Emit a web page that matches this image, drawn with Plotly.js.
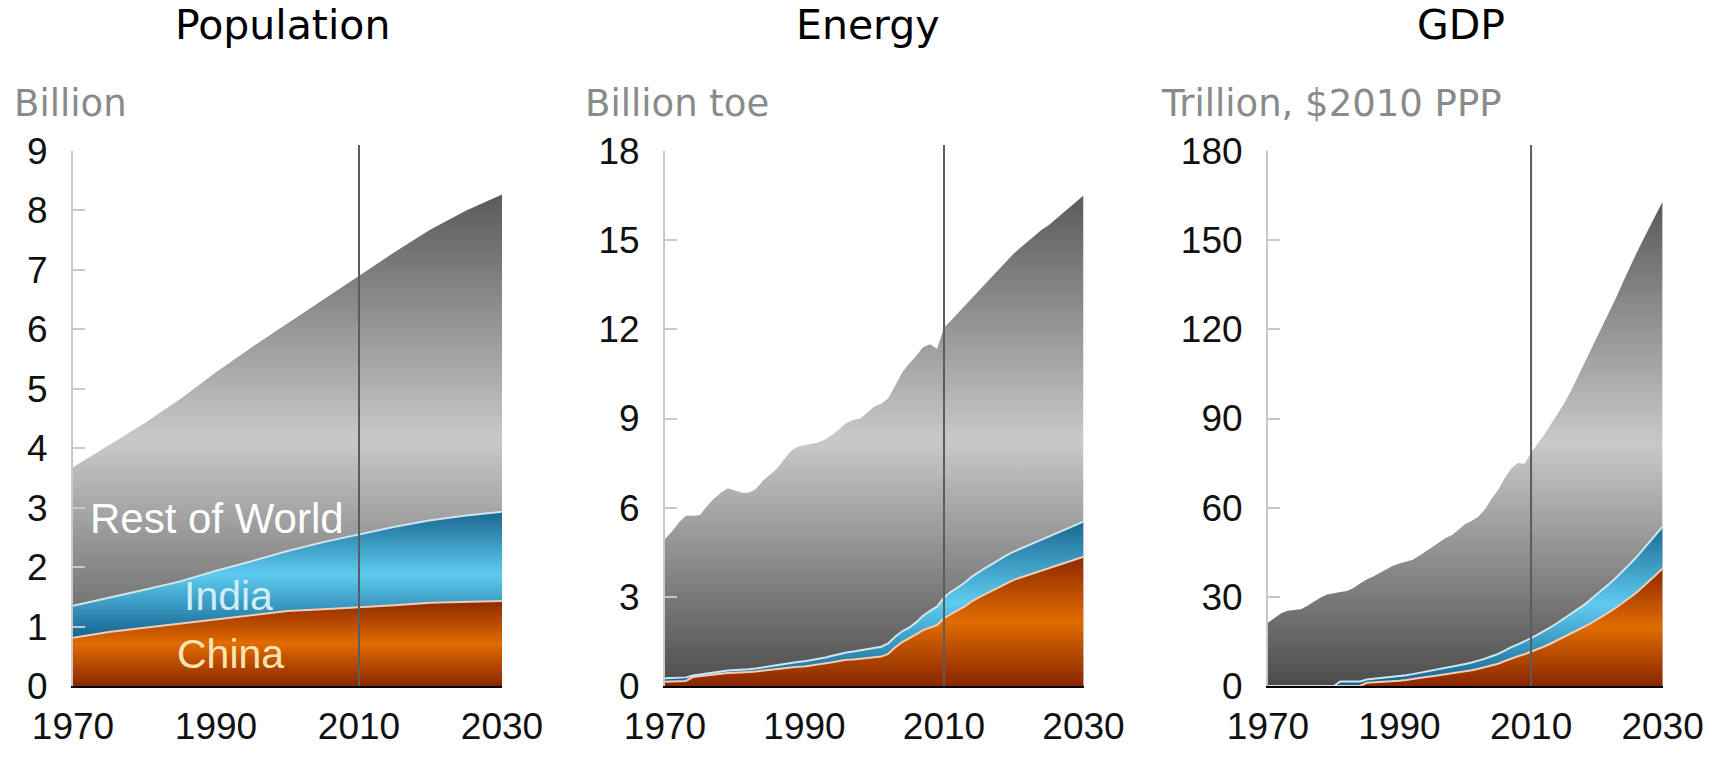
<!DOCTYPE html>
<html><head><meta charset="utf-8">
<script src="https://cdn.plot.ly/plotly-3.0.1.min.js"></script>
<style>html,body{margin:0;padding:0;background:#fff}#chart{width:1713px;height:758px}</style>
</head><body><div id="chart"></div>
<script>
// ---------- DATA ----------
const panelTitles = ['Population', 'Energy', 'GDP'];
const unitLabels = ['Billion', 'Billion toe', 'Trillion, $2010 PPP'];
const xTickVals = [1970, 1990, 2010, 2030];
const seriesNames = ['Rest of World', 'India', 'China'];

const popYears = [1970,1975,1980,1985,1990,1995,2000,2005,2010,2015,2020,2025,2030];
const popWorld = [3.68,4.05,4.42,4.83,5.28,5.70,6.10,6.50,6.89,7.30,7.68,8.00,8.27];
const popChina = [0.81,0.91,0.98,1.05,1.13,1.20,1.26,1.29,1.32,1.36,1.40,1.42,1.43];
const popIndia = [0.54,0.57,0.64,0.71,0.81,0.90,1.01,1.13,1.23,1.32,1.39,1.45,1.50];

const years = [1970,1971,1972,1973,1974,1975,1976,1977,1978,1979,
  1980,1981,1982,1983,1984,1985,1986,1987,1988,1989,
  1990,1991,1992,1993,1994,1995,1996,1997,1998,1999,
  2000,2001,2002,2003,2004,2005,2006,2007,2008,2009,
  2010,2011,2012,2013,2014,2015,2016,2017,2018,2019,
  2020,2021,2022,2023,2024,2025,2026,2027,2028,2029,2030];

const energyWorld = [4.95,5.20,5.50,5.73,5.73,5.75,6.05,6.30,6.50,6.65,
  6.58,6.50,6.50,6.62,6.90,7.10,7.30,7.60,7.90,8.05,
  8.10,8.15,8.20,8.30,8.45,8.65,8.85,8.95,9.00,9.20,
  9.40,9.50,9.68,10.10,10.55,10.85,11.10,11.40,11.50,11.35,
  12.05,12.30,12.55,12.80,13.05,13.30,13.55,13.80,14.05,14.30,
  14.55,14.75,14.95,15.15,15.35,15.50,15.70,15.90,16.10,16.30,16.50];
const energyChina = [0.14,0.15,0.16,0.17,0.30,0.33,0.35,0.38,0.42,0.44,
  0.45,0.45,0.47,0.49,0.52,0.55,0.57,0.59,0.62,0.65,
  0.66,0.69,0.72,0.76,0.80,0.84,0.88,0.89,0.91,0.93,
  0.96,0.99,1.08,1.30,1.48,1.60,1.74,1.88,1.97,2.05,
  2.28,2.43,2.55,2.68,2.85,2.98,3.10,3.22,3.35,3.46,
  3.57,3.65,3.73,3.81,3.89,3.97,4.05,4.12,4.20,4.27,4.35];
const energyIndia = [0.12,0.12,0.12,0.12,0.05,0.06,0.06,0.07,0.07,0.08,
  0.08,0.09,0.09,0.10,0.11,0.12,0.13,0.14,0.15,0.16,
  0.17,0.18,0.19,0.20,0.22,0.24,0.25,0.27,0.29,0.30,
  0.32,0.33,0.35,0.36,0.36,0.36,0.40,0.48,0.56,0.62,
  0.70,0.74,0.77,0.80,0.83,0.86,0.88,0.90,0.92,0.94,
  0.95,0.97,0.99,1.01,1.04,1.07,1.09,1.11,1.13,1.16,1.18];

const gdpWorld = [21.3,23.0,24.5,25.3,25.6,25.8,27.0,28.5,29.8,30.8,
  31.3,31.6,32.0,33.0,34.5,35.8,36.8,38.0,39.2,40.5,
  41.2,41.8,42.5,43.8,45.2,46.8,48.3,49.8,50.8,52.5,
  54.5,55.6,57.0,59.5,63.0,66.0,70.0,73.2,75.0,74.8,
  78.5,81.5,84.5,88.0,91.5,95.0,99.0,103.5,108.0,112.5,
  117.0,121.5,126.0,131.0,136.0,141.0,145.5,150.0,154.5,159.0,163.0];
const gdpChina = [0,0,0,0,0,0,0,0,0,0,
  0,0,0,0,0,1.1,1.2,1.4,1.6,1.7,
  1.8,2.0,2.4,2.7,3.0,3.3,3.6,3.9,4.2,4.5,
  4.9,5.3,5.8,6.3,6.9,7.5,8.4,9.3,10.0,10.7,
  11.5,12.4,13.3,14.3,15.4,16.5,17.5,18.6,19.7,21.0,
  22.3,23.6,25.0,26.5,28.0,29.7,31.4,33.3,35.3,37.4,39.6];
const gdpIndia = [0,0,0,0,0,0,0,0,0,0,
  0,1.5,1.5,1.5,1.5,1.1,1.2,1.2,1.3,1.4,
  1.5,1.6,1.6,1.7,1.8,1.9,2.0,2.1,2.2,2.4,
  2.5,2.6,2.7,2.9,3.1,3.3,3.5,3.8,4.0,4.3,
  4.6,4.9,5.2,5.5,5.8,6.2,6.6,7.0,7.5,8.0,
  8.5,9.0,9.6,10.1,10.7,11.3,11.9,12.5,13.1,13.6,14.0];

const yMax = [9, 18, 180];
const yStep = [1, 3, 30];

// ---------- STYLE ----------
const W = 1713, H = 758, TOP = 151, BOT = 686;
const xDomains = [[73, 502], [665, 1083.5], [1268, 1662.6]];
const titleX = [282, 868, 1461];
const unitX = [12, 583, 1159];
const grayScale = [[0, '#4c4c4c'], [0.5, '#c9c9c9'], [1, '#5a5a5a']];
const blueScale = [[0, '#14628e'], [0.5, '#5ecbf0'], [1, '#18668f']];
const orangeScale = [[0, '#8a2600'], [0.5, '#e06c00'], [1, '#8e2800']];

const panels = [
  {x: popYears, world: popWorld, china: popChina, india: popIndia, blue: [0.8, 2.95]},
  {x: years, world: energyWorld, china: energyChina, india: energyIndia, blue: [0, 5.6]},
  {x: years, world: gdpWorld, china: gdpChina, india: gdpIndia, blue: [0, 55]}
];

const data = [];
panels.forEach((p, i) => {
  const xa = i === 0 ? 'x' : 'x' + (i + 1);
  const ya = i === 0 ? 'y' : 'y' + (i + 1);
  data.push({
    type: 'scatter', mode: 'lines', x: p.x, y: p.world, xaxis: xa, yaxis: ya,
    name: seriesNames[0], fill: 'tozeroy', line: {width: 0, color: 'rgba(0,0,0,0)'},
    fillgradient: {type: 'vertical', start: 0, stop: Math.max(...p.world), colorscale: grayScale},
    hoverinfo: 'skip'
  });
  data.push({
    type: 'scatter', mode: 'lines', x: p.x, y: p.china, xaxis: xa, yaxis: ya,
    name: seriesNames[2], stackgroup: 'sg' + i, line: {width: 2, color: '#f2cdb6'},
    fillgradient: {type: 'vertical', start: 0, stop: Math.max(...p.china), colorscale: orangeScale},
    hoverinfo: 'skip'
  });
  data.push({
    type: 'scatter', mode: 'lines', x: p.x, y: p.india, xaxis: xa, yaxis: ya,
    name: seriesNames[1], stackgroup: 'sg' + i, line: {width: 2, color: '#cfe6f0'},
    fillgradient: {type: 'vertical', start: p.blue[0], stop: p.blue[1], colorscale: blueScale},
    hoverinfo: 'skip'
  });
});

const tickFont = {family: 'Liberation Sans, Arial, sans-serif', size: 37, color: '#111'};
const layout = {
  width: W, height: H, showlegend: false,
  paper_bgcolor: '#fff', plot_bgcolor: 'rgba(0,0,0,0)',
  margin: {l: 0, r: 0, t: TOP, b: H - BOT, pad: 0},
  annotations: [], shapes: []
};
const py = p => (BOT - p) / (BOT - TOP);
for (let i = 0; i < 3; i++) {
  const s = i === 0 ? '' : String(i + 1);
  layout['xaxis' + s] = {
    domain: [xDomains[i][0] / W, xDomains[i][1] / W], range: [1970, 2030],
    tickmode: 'array', tickvals: xTickVals, ticks: '', showgrid: false, zeroline: false,
    showline: true, linecolor: '#000', linewidth: 2, tickfont: tickFont,
    ticklabelstandoff: 7, anchor: 'y' + s, fixedrange: true
  };
  layout['yaxis' + s] = {
    domain: [0, 1], range: [0, yMax[i]], tick0: 0, dtick: yStep[i],
    showgrid: false, zeroline: false, showline: true, linecolor: '#c8c8c8', linewidth: 2,
    ticks: 'inside', ticklen: 12, tickwidth: 2, tickcolor: '#c8c8c8', tickfont: tickFont,
    ticklabelstandoff: 16, anchor: 'x' + s, fixedrange: true
  };
  layout.annotations.push({
    text: panelTitles[i], xref: 'paper', yref: 'paper', x: titleX[i] / W, y: py(25),
    xanchor: 'center', yanchor: 'middle', showarrow: false,
    font: {family: 'DejaVu Sans, sans-serif', size: 41, color: '#000'}
  });
  layout.annotations.push({
    text: unitLabels[i], xref: 'paper', yref: 'paper', x: unitX[i] / W, y: py(103),
    xanchor: 'left', yanchor: 'middle', showarrow: false,
    font: {family: 'DejaVu Sans, sans-serif', size: 37, color: '#8a8a8a'}
  });
  layout.shapes.push({
    type: 'line', xref: 'x' + s, yref: 'paper', x0: 2010, x1: 2010, y0: 0, y1: py(145),
    line: {color: '#5c5c5c', width: 2}, layer: 'above'
  });
}
layout.annotations.push(
  {text: seriesNames[0], xref: 'x', yref: 'y', x: 1990.1, y: 2.81, showarrow: false,
   xanchor: 'center', yanchor: 'middle', font: {family: 'Liberation Sans, Arial, sans-serif', size: 42, color: '#ffffff'}},
  {text: seriesNames[1], xref: 'x', yref: 'y', x: 1991.8, y: 1.51, showarrow: false,
   xanchor: 'center', yanchor: 'middle', font: {family: 'Liberation Sans, Arial, sans-serif', size: 41, color: '#cdeefa'}},
  {text: seriesNames[2], xref: 'x', yref: 'y', x: 1992.0, y: 0.54, showarrow: false,
   xanchor: 'center', yanchor: 'middle', font: {family: 'Liberation Sans, Arial, sans-serif', size: 41, color: '#fbe4b4'}}
);

Plotly.newPlot('chart', data, layout, {displayModeBar: false, staticPlot: true});
</script>
</body></html>
